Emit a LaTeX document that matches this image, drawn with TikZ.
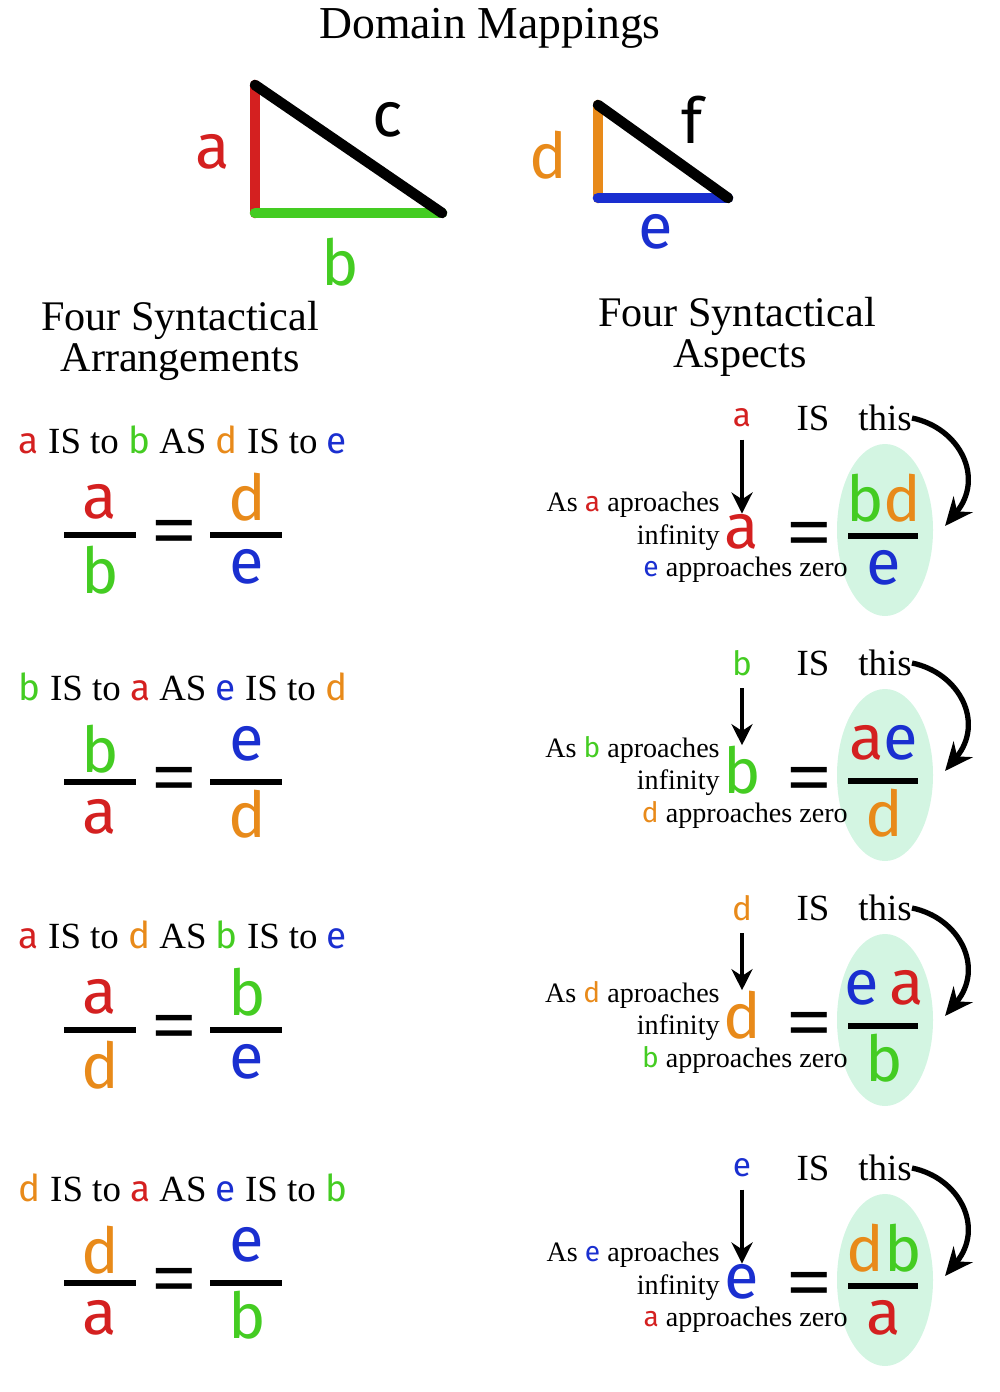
\documentclass[tikz,border=0pt]{standalone}
\usepackage{fontspec}
\setmainfont{Liberation Serif}
\newfontfamily\lf{Fira Sans}
\usetikzlibrary{arrows.meta}
\definecolor{cr}{HTML}{D42020}
\definecolor{cg}{HTML}{44CC22}
\definecolor{co}{HTML}{E88A1A}
\definecolor{cb}{HTML}{1A2FD0}
\definecolor{ell}{HTML}{D3F5E2}
\newcommand{\A}{{\lf\color{cr}a}}
\newcommand{\B}{{\lf\color{cg}b}}
\newcommand{\D}{{\lf\color{co}d}}
\newcommand{\E}{{\lf\color{cb}e}}
\newcommand{\fs}[1]{\fontsize{#1}{#1}\selectfont}
\begin{document}
\begin{tikzpicture}[x=0.02cm,y=-0.02cm,
  txt/.style={inner sep=0,font=\fs{21pt}},
  sm/.style={inner sep=0,font=\fs{16pt}},
  big/.style={inner sep=0,font=\lf\fs{36pt}},
  bar/.style={line width=3pt},
  eq/.style={inner sep=0,font=\fs{44pt}\bfseries},
  seg/.style={line width=6pt,line cap=round}]
\useasboundingbox (0,0) rectangle (1000,1392);
\node[txt,font=\fs{26pt}] (title) at (490,28) {Domain Mappings};
% triangle 1
\coordinate (t1) at (255,85); \coordinate (t2) at (255,213); \coordinate (t3) at (442,213);
\draw[seg,cr] (t1)--(t2); \draw[seg,cg] (t2)--(t3); \draw[seg,black] (t3)--(t1);
\node[big,cr] (la) at (213,152) {a};
\node[big] (lc) at (388,120) {c};
\node[big,cg] (lb) at (340,262) {b};
% triangle 2
\coordinate (s1) at (598,105); \coordinate (s2) at (598,198); \coordinate (s3) at (728,198);
\draw[seg,co] (s1)--(s2); \draw[seg,cb] (s2)--(s3); \draw[seg,black] (s3)--(s1);
\node[big,co] (ld) at (548,155) {d};
\node[big] (lf) at (692,120) {f};
\node[big,cb] (le) at (656,232) {e};
% headings
\node[txt,font=\fs{24pt}] (h1) at (180,320) {Four Syntactical};
\node[txt,font=\fs{24pt}] (h2) at (180,362) {Arrangements};
\node[txt,font=\fs{24pt}] (h3) at (737,316) {Four Syntactical};
\node[txt,font=\fs{24pt}] (h4) at (740,358) {Aspects};
% left rows
\foreach \y/\s/\n/\d/\N/\DD [count=\i] in
 {440/{\A{} IS to \B{} AS \D{} IS to \E}/{\color{cr}a}/{\color{cg}b}/{\color{co}d}/{\color{cb}e},
  687/{\B{} IS to \A{} AS \E{} IS to \D}/{\color{cg}b}/{\color{cr}a}/{\color{cb}e}/{\color{co}d},
  935/{\A{} IS to \D{} AS \B{} IS to \E}/{\color{cr}a}/{\color{co}d}/{\color{cg}b}/{\color{cb}e},
  1188/{\D{} IS to \A{} AS \E{} IS to \B}/{\color{co}d}/{\color{cr}a}/{\color{cb}e}/{\color{cg}b}}{
  \node[txt] (s\i) at (183,\y) {\s};
  \node[big] (n\i) at (100,\y+62) {\n};
  \node[big] (m\i) at (100,\y+130) {\d};
  \draw[bar] (64,\y+95) -- (136,\y+95);
  \node[eq] (q\i) at (175,\y+98) {=};
  \node[big] (p\i) at (247,\y+57) {\N};
  \node[big] (r\i) at (247,\y+127) {\DD};
  \draw[bar] (210,\y+95) -- (282,\y+95);
}
% right rows
\foreach \y/\L/\Z/\num/\den [count=\i] in
 {418/\A/\E/{{\color{cg}b}{\color{co}d}}/{\color{cb}e},
  663/\B/\D/{{\color{cr}a}{\color{cb}e}}/{\color{co}d},
  908/\D/\B/{{\color{cb}e}\,{\color{cr}a}}/{\color{cg}b},
  1168/\E/\A/{{\color{co}d}{\color{cg}b}}/{\color{cr}a}}{
  \fill[ell] (885,\y+112) ellipse [x radius=48, y radius=86];
  \node[sm,font=\fs{19pt}] (x\i) at (742,\y) {\L};
  \node[txt] (is\i) at (813,\y) {IS};
  \node[txt,anchor=west] (th\i) at (858,\y) {this};
  \node[big,anchor=base] (bl\i) at (742,\y+130) {\L};
  \draw[-{Stealth[length=12pt,width=12pt]},line width=2.2pt] (x\i.south)++(0,12) -- (bl\i.north);
  \node[sm,anchor=east] (as\i) at (720,\y+87) {As \L{} aproaches};
  \node[sm,anchor=east] (in\i) at (720,\y+120) {infinity};
  \node[sm,anchor=east] (z\i) at (848,\y+152) {\Z{} approaches zero};
  \node[eq] (qq\i) at (810,\y+122) {=};
  \node[big] (nu\i) at (884,\y+80) {\num};
  \node[big] (de\i) at (884,\y+150) {\den};
  \draw[bar] (848,\y+118) -- (918,\y+118);
  \draw[-{Stealth[length=16pt,width=14pt]},line width=3pt] (th\i.east) .. controls (960,\y+10) and (985,\y+60) .. (945,\y+108);
}
\end{tikzpicture}
\end{document}
